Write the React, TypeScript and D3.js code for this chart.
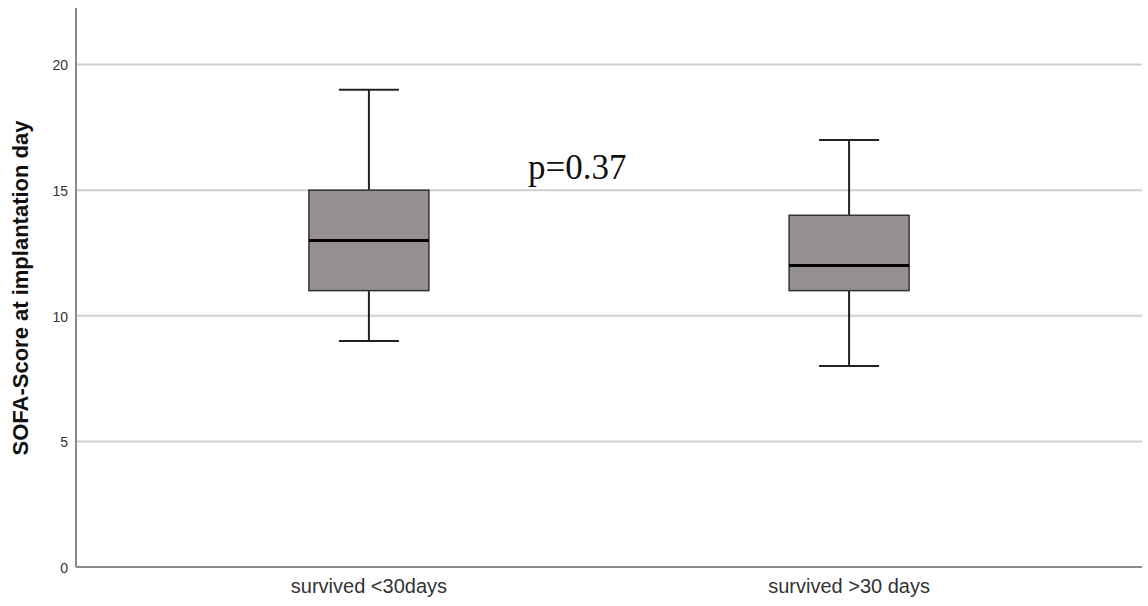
import React from "react";
import * as d3 from "d3";

const categories = ["survived <30days", "survived >30 days"];
const whiskerLow = [9, 8];
const q1 = [11, 11];
const median = [13, 12];
const q3 = [15, 14];
const whiskerHigh = [19, 17];
const yTicks = [0, 5, 10, 15, 20];
const pLabel = "p=0.37";

export default function App() {
  const W = 1148, H = 606;
  const left = 76, right = 1142, top = 8, bottom = 567;
  const y = d3.scaleLinear().domain([0, 22.25]).range([bottom, top]);
  const x = d3.scalePoint<string>().domain(categories).range([left, right]).padding(0.61);
  const boxW = 120, capW = 60;
  return (
    <svg width={W} height={H} style={{ position: "absolute", left: 0, top: 0, background: "#fff" }}>
      {yTicks.filter(t => t > 0).map(t => (
        <line key={"g" + t} x1={left} x2={right} y1={y(t)} y2={y(t)} stroke="#cfcfcf" strokeWidth={2} />
      ))}
      {yTicks.map(t => (
        <text key={"t" + t} x={left - 8} y={y(t) + 1} dy="0.35em" textAnchor="end"
          fontFamily="Liberation Sans, Arial, sans-serif" fontSize={14} fill="#333">{t}</text>
      ))}
      <line x1={left} x2={left} y1={top} y2={bottom} stroke="#8a8a8a" strokeWidth={2} />
      <line x1={left} x2={right} y1={bottom} y2={bottom} stroke="#8a8a8a" strokeWidth={2} />
      {categories.map((c, i) => {
        const cx = x(c)!;
        return (
          <g key={c}>
            <line x1={cx} x2={cx} y1={y(whiskerHigh[i])} y2={y(q3[i])} stroke="#222" strokeWidth={2} />
            <line x1={cx} x2={cx} y1={y(q1[i])} y2={y(whiskerLow[i])} stroke="#222" strokeWidth={2} />
            <line x1={cx - capW / 2} x2={cx + capW / 2} y1={y(whiskerHigh[i])} y2={y(whiskerHigh[i])} stroke="#222" strokeWidth={2} />
            <line x1={cx - capW / 2} x2={cx + capW / 2} y1={y(whiskerLow[i])} y2={y(whiskerLow[i])} stroke="#222" strokeWidth={2} />
            <rect x={cx - boxW / 2} y={y(q3[i])} width={boxW} height={y(q1[i]) - y(q3[i])}
              fill="#958f8f" stroke="#333" strokeWidth={1.5} />
            <line x1={cx - boxW / 2} x2={cx + boxW / 2} y1={y(median[i])} y2={y(median[i])} stroke="#000" strokeWidth={3} />
            <text x={cx} y={bottom + 26} textAnchor="middle"
              fontFamily="Liberation Sans, Arial, sans-serif" fontSize={20} fill="#333">{c}</text>
          </g>
        );
      })}
      <text x={528} y={179} fontFamily="Liberation Serif, Times New Roman, serif" fontSize={35} fill="#111">{pLabel}</text>
      <text transform={`translate(28, 288) rotate(-90)`} textAnchor="middle"
        fontFamily="Liberation Sans, Arial, sans-serif" fontSize={22} fontWeight="bold" fill="#111">
        SOFA-Score at implantation day
      </text>
    </svg>
  );
}
